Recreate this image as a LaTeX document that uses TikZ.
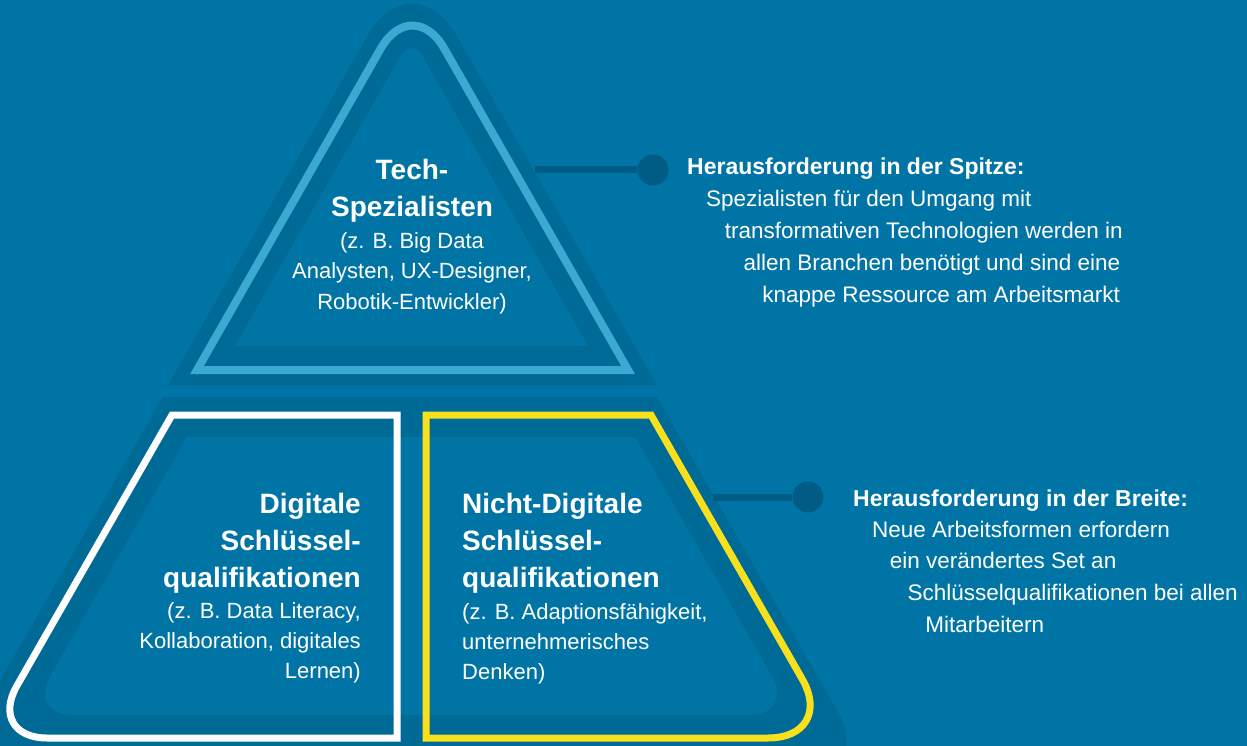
\documentclass[tikz,border=0pt]{standalone}
\usepackage{fontspec}
\setmainfont{Liberation Sans}
\definecolor{bgblue}{RGB}{0,117,165}
\definecolor{bandblue}{RGB}{0,106,150}
\definecolor{dotblue}{RGB}{0,91,133}
\definecolor{lightblue}{RGB}{59,170,211}
\definecolor{niceyellow}{RGB}{248,224,28}

\tikzset{
  head/.style={inner sep=0, text=white, font=\fontsize{28}{30}\selectfont\bfseries},
  body/.style={inner sep=0, text=white, font=\fontsize{22}{26}\selectfont},
  sidehead/.style={inner sep=0, anchor=base west, text=white, font=\fontsize{23}{26}\selectfont\bfseries},
  sidebody/.style={inner sep=0, anchor=base west, text=white, font=\fontsize{22.5}{26}\selectfont},
  dot/.style={circle, fill=dotblue, minimum size=31pt, inner sep=0},
  conn/.style={draw=dotblue, line width=7pt}
}

\begin{document}
\begin{tikzpicture}[x=1pt, y=-1pt]
  \clip (0,0) rectangle (1247,746);
  \fill[bgblue] (0,0) rectangle (1247,746);
  \useasboundingbox (0,0) rectangle (1247,746);

  % top triangle
  \fill[bandblue] (168,385) [rounded corners=90pt] -- (412,-42) [sharp corners] -- (657,385) -- cycle;
  \draw[lightblue, line width=8pt] (197,370) [rounded corners=64pt] -- (412.5,-7) [sharp corners] -- (628,370) -- cycle;
  \fill[bgblue] (235,346) [rounded corners=22pt] -- (411.5,37) [sharp corners] -- (588,346) -- cycle;

  % bottom trapezoid
  \fill[bandblue] (163,397) -- (657,397) [rounded corners=80pt] -- (877,780) -- (-57,780) [sharp corners] -- cycle;
  \fill[bgblue] (187,437) -- (635,437) [rounded corners=45pt] -- (794,715) -- (28,715) [sharp corners] -- cycle;
  \draw[white, line width=7pt] (397,415) -- (172,415) [rounded corners=60pt] -- (-13,738) [sharp corners] -- (397,738) -- cycle;
  \draw[niceyellow, line width=7pt] (426,415) -- (651,415) [rounded corners=68pt] -- (836,738) [sharp corners] -- (426,738) -- cycle;

  % connectors
  \coordinate (spitzeend) at (535,170);
  \node[dot] (spitzedot) at (653,170) {};
  \draw[conn] (spitzeend) -- (spitzedot);
  \coordinate (breiteend) at (713,497);
  \node[dot] (breitedot) at (808,497) {};
  \draw[conn] (breiteend) -- (breitedot);

  % tech specialists
  \node[head, anchor=base] (tech1) at (412,180) {Tech-};
  \node[head, anchor=base] (tech2) at (412,217) {Spezialisten};
  \foreach \txt [count=\i] in {{(z. B. Big Data}, {Analysten, UX-Designer,}, {Robotik-Entwickler)}}
    \node[body, anchor=base] (techsub\i) at ({412}, {248+30.5*(\i-1)}) {\txt};

  % digital key skills
  \foreach \txt [count=\i] in {Digitale, Schlüssel-, qualifikationen}
    \node[head, anchor=base east] (dig\i) at ({361}, {513+37*(\i-1)}) {\txt};
  \foreach \txt [count=\i] in {{(z. B. Data Literacy,}, {Kollaboration, digitales}, {Lernen)}}
    \node[body, anchor=base east] (digsub\i) at ({361}, {618+30*(\i-1)}) {\txt};

  % non-digital key skills
  \foreach \txt [count=\i] in {Nicht-Digitale, Schlüssel-, qualifikationen}
    \node[head, anchor=base west] (nondig\i) at ({462}, {513+37*(\i-1)}) {\txt};
  \foreach \txt [count=\i] in {{(z. B. Adaptionsfähigkeit,}, unternehmerisches, {Denken)}}
    \node[body, anchor=base west] (nondigsub\i) at ({462}, {619+30*(\i-1)}) {\txt};

  % right side texts
  \node[sidehead] (spitzehead) at (687,175) {Herausforderung in der Spitze:};
  \foreach \txt [count=\i] in {Spezialisten für den Umgang mit, transformativen Technologien werden in, allen Branchen benötigt und sind eine, knappe Ressource am Arbeitsmarkt}
    \node[sidebody] (spitze\i) at ({706+18.7*(\i-1)}, {207+31.7*(\i-1)}) {\txt};

  \node[sidehead] (breitehead) at (853,506) {Herausforderung in der Breite:};
  \foreach \txt [count=\i] in {Neue Arbeitsformen erfordern, ein verändertes Set an, Schlüsselqualifikationen bei allen, Mitarbeitern}
    \node[sidebody] (breite\i) at ({872+17.7*(\i-1)}, {537+31.7*(\i-1)}) {\txt};
\end{tikzpicture}
\end{document}
